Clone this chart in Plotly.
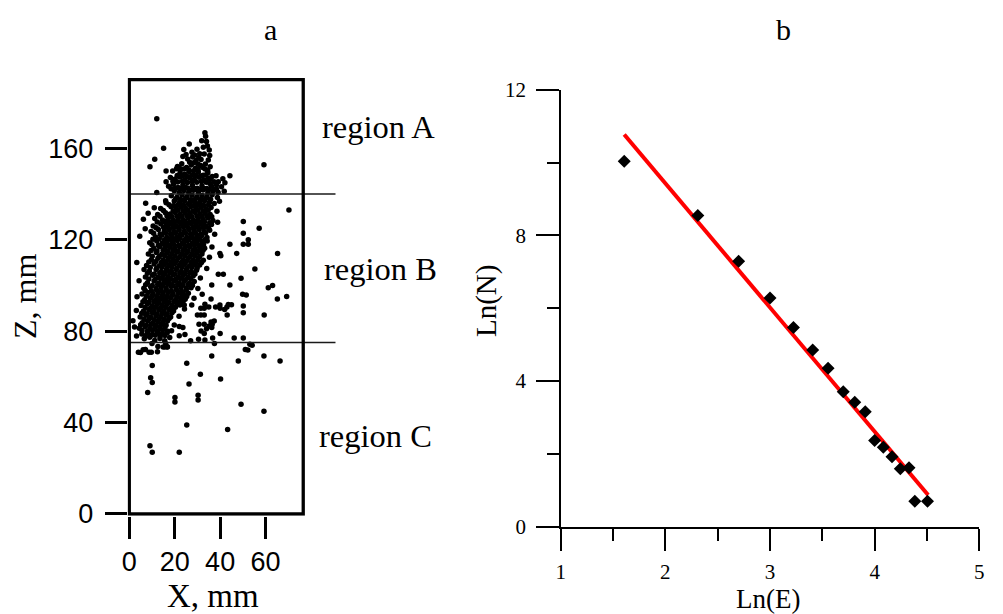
import plotly.graph_objects as go

# The page adds an 8 px body margin, so the figure is sized to the rest of the window
OFF = 8
W, H = 1003 - OFF, 614 - OFF

# ---------------- panel a data (X, Z in mm) ----------------
region_a_pts = [
    (12.1,172.9),(15.1,160.0),(11.2,155.2),(9.1,151.9),(59.3,152.8),(12.1,140.6),
    (33.3,166.8),(33.6,165.2),(34.0,163.0),(31.9,163.3),(26.4,161.9),(35.2,159.2),(34.4,161.0),
    (33.0,157.5),(35.4,156.8),(32.6,160.4),(34.8,154.9),
    (24.0,159.4),(27.6,158.2),(29.8,159.6),(31.0,157.6),(23.6,156.4),(25.7,155.3),(27.9,156.2),
    (29.4,154.6),(31.6,155.1),(33.5,153.1),
    (21.2,152.0),(23.1,153.2),(25.2,151.6),(27.3,152.7),(29.2,151.3),(31.4,152.4),(33.4,150.9),(35.6,151.9),
    (16.2,150.0),(19.1,150.0),(20.8,151.0),(22.4,149.4),(24.5,148.6),(26.3,149.8),(28.4,148.4),
    (30.4,149.6),(32.5,148.2),(34.6,149.3),(36.5,147.6),
    (18.1,147.2),(20.2,146.5),(22.3,147.4),(24.4,146.2),(26.5,147.1),(28.6,146.3),(30.7,147.3),
    (32.8,146.1),(34.8,147.0),(38.2,148.0),(44.3,148.0),(41.2,146.7),(39.2,145.3),(37.3,145.3),
    (42.1,144.9),(16.2,145.3),
    (17.3,143.4),(19.4,144.3),(21.5,142.8),(23.6,143.9),(25.7,142.6),(27.8,143.7),(29.9,142.5),
    (32.0,143.6),(34.1,142.4),(36.2,143.5),(38.4,142.2),(40.6,143.1),(35.5,144.6),(19.8,141.4),
    (22.0,140.8),(24.1,141.5),(26.2,140.7),(28.3,141.6),(30.4,140.9),(32.5,141.7),(34.6,140.6),
    (36.8,141.3),(39.1,140.7),(41.8,141.2),
]

region_a_fill = [
    (25.0,157.3),(28.8,157.0),(30.6,155.9),(26.6,153.9),(28.4,153.6),(30.3,153.0),(32.4,151.6),
    (24.1,150.9),(22.3,151.1),(26.2,150.6),(28.3,150.2),(30.3,150.7),(34.5,150.3),(21.1,148.1),
    (23.3,148.0),(25.4,147.8),(27.5,148.2),(29.5,148.0),(31.6,147.9),(33.6,148.3),(35.6,146.4),
    (19.2,145.6),(21.3,145.2),(23.4,145.6),(25.6,145.0),(27.6,145.5),(29.7,145.1),(31.8,145.4),
    (33.9,145.1),(38.4,143.9),(18.4,142.3),(20.4,142.6),(22.6,142.4),(24.7,142.9),(26.8,141.7),
    (28.9,142.3),(31.1,141.9),(33.1,142.3),(35.2,142.1),(37.3,141.9),
]

core_b_pts = [
    (18.5,139.2),(21.0,138.6),(23.2,139.5),(25.4,138.8),(27.6,139.4),(29.8,138.7),(32.0,139.3),(34.2,138.9),(36.5,139.6),(38.8,138.5),
    (16.2,136.2),(19.8,136.9),(22.1,136.1),(24.3,136.8),(26.5,136.0),(28.7,136.7),(30.9,136.2),(33.1,136.9),(35.3,136.3),(37.4,135.8),
    (13.8,133.6),(18.4,134.4),(20.6,133.7),(22.8,134.3),(25.0,133.6),(27.2,134.5),(29.4,133.8),(31.6,134.2),(33.8,133.5),(36.0,134.1),
    (12.5,131.0),(15.9,131.8),(18.0,131.2),(20.2,131.9),(22.4,131.1),(24.6,131.7),(26.8,131.3),(29.0,131.9),(31.2,131.2),(33.4,131.6),(35.6,131.0),
    (11.2,129.3),(14.6,128.6),(17.1,129.2),(19.3,128.5),(21.5,129.1),(23.7,128.7),(25.9,129.4),(28.1,128.6),(30.3,129.2),(32.5,128.8),(34.7,129.5),(36.8,128.4),
    (10.5,126.0),(13.9,126.9),(16.3,126.2),(18.5,126.8),(20.7,126.1),(22.9,126.7),(25.1,126.3),(27.3,126.9),(29.5,126.2),(31.7,126.7),(33.9,126.0),(36.2,126.6),
    (9.6,123.6),(12.8,124.4),(15.4,123.8),(17.6,124.3),(19.8,123.6),(22.0,124.2),(24.2,123.7),(26.4,124.4),(28.6,123.8),(30.8,124.3),(33.0,123.6),(35.4,124.1),
    (11.6,121.2),(14.2,121.9),(16.5,121.1),(18.7,121.8),(20.9,121.3),(23.1,121.9),(25.3,121.1),(27.5,121.7),(29.7,121.2),(31.9,121.8),(34.2,121.0),
    (9.0,118.7),(12.1,119.4),(14.5,118.6),(16.7,119.2),(18.9,118.8),(21.1,119.5),(23.3,118.7),(25.5,119.3),(27.7,118.6),(29.9,119.2),(32.1,118.9),(34.3,119.4),
    (10.8,116.2),(13.3,116.9),(15.6,116.1),(17.8,116.7),(20.0,116.3),(22.2,116.9),(24.4,116.2),(26.6,116.8),(28.8,116.1),(31.0,116.6),(33.2,116.2),
    (8.4,113.7),(11.9,114.4),(14.3,113.6),(16.5,114.2),(18.7,113.8),(20.9,114.5),(23.1,113.7),(25.3,114.3),(27.5,113.6),(29.7,114.1),(32.0,113.8),
    (9.7,111.2),(12.6,111.9),(14.9,111.1),(17.1,111.7),(19.3,111.3),(21.5,111.9),(23.7,111.2),(25.9,111.8),(28.1,111.1),(30.3,111.6),(32.6,111.0),
    (7.6,108.7),(10.9,109.4),(13.3,108.6),(15.5,109.2),(17.7,108.8),(19.9,109.5),(22.1,108.7),(24.3,109.3),(26.5,108.6),(28.7,109.1),(31.0,108.9),
    (8.8,106.2),(11.8,106.9),(14.1,106.1),(16.3,106.7),(18.5,106.3),(20.7,106.9),(22.9,106.2),(25.1,106.8),(27.3,106.1),(29.6,106.6),
    (7.1,103.7),(10.2,104.4),(12.6,103.6),(14.8,104.2),(17.0,103.8),(19.2,104.5),(21.4,103.7),(23.6,104.3),(25.8,103.6),(28.1,104.1),
    (8.0,101.2),(10.9,101.9),(13.2,101.1),(15.4,101.7),(17.6,101.3),(19.8,101.9),(22.0,101.2),(24.2,101.8),(26.5,101.1),(28.6,101.7),
    (6.4,98.7),(9.4,99.4),(11.8,98.6),(14.0,99.2),(16.2,98.8),(18.4,99.5),(20.6,98.7),(22.8,99.3),(25.1,98.6),(27.2,99.0),
    (5.6,96.2),(8.2,96.9),(10.5,96.1),(12.7,96.7),(14.9,96.3),(17.1,96.9),(19.3,96.2),(21.6,96.8),(23.8,96.1),(26.0,96.6),
    (6.8,93.7),(9.3,94.4),(11.5,93.6),(13.7,94.2),(15.9,93.8),(18.1,94.5),(20.4,93.7),(22.6,94.3),(24.6,93.9),
    (5.2,91.2),(7.9,91.9),(10.1,91.1),(12.3,91.7),(14.5,91.3),(16.7,91.9),(18.9,91.2),(21.1,91.7),
    (6.2,88.7),(8.6,89.4),(10.8,88.6),(13.0,89.2),(15.2,88.8),(17.4,89.5),(19.5,88.8),
    (4.8,86.2),(7.3,86.9),(9.5,86.1),(11.7,86.7),(13.9,86.3),(16.1,86.9),(18.2,86.2),
    (5.7,83.7),(8.1,84.4),(10.3,83.6),(12.5,84.2),(14.7,83.8),(16.8,84.4),
    (4.4,81.2),(6.9,81.9),(9.1,81.1),(11.3,81.7),(13.5,81.3),(15.7,81.9),
    (5.5,78.7),(8.0,79.4),(10.2,78.6),(12.4,79.2),(14.6,78.8),(16.7,79.3),
    (6.6,76.7),(9.0,77.3),(13.5,76.8),(17.8,77.2),(3.2,77.9),(11.2,75.9),(15.6,75.8),
]

core_b_fill = [
    (20.4,137.8),(22.6,137.6),(24.8,138.0),(27.0,137.5),(29.2,137.9),(31.4,137.6),(33.6,137.9),(35.8,137.7),
    (17.5,135.3),(19.6,135.0),(21.7,135.4),(23.9,135.1),(26.1,135.5),(28.3,135.0),(30.5,135.4),(32.7,135.1),(34.9,135.3),
    (15.0,132.8),(19.3,132.6),(21.5,133.0),(23.7,132.7),(25.9,132.9),(28.1,132.5),(30.3,133.0),(32.5,132.6),(34.7,132.9),
    (13.5,130.2),(16.6,130.4),(18.8,130.0),(21.0,130.3),(23.2,130.1),(25.4,130.5),(27.6,130.0),(29.8,130.4),(32.0,130.1),(34.2,130.3),(36.3,130.0),
    (12.3,127.7),(15.5,127.9),(17.7,127.5),(19.9,127.8),(22.1,127.6),(24.3,128.0),(26.5,127.5),(28.7,127.9),(30.9,127.6),(33.1,127.8),(35.4,127.4),
    (11.8,125.2),(15.1,125.4),(17.3,125.0),(19.5,125.3),(21.7,125.1),(23.9,125.5),(26.1,125.0),(28.3,125.4),(30.5,125.1),(32.7,125.3),(34.9,125.0),
    (10.7,122.8),(13.6,122.5),(16.0,122.9),(18.2,122.6),(20.4,123.0),(22.6,122.5),(24.8,122.9),(27.0,122.6),(29.2,122.8),(31.4,122.4),(33.6,122.9),
    (10.4,120.2),(13.2,120.4),(15.5,120.0),(17.7,120.3),(19.9,120.1),(22.1,120.5),(24.3,120.0),(26.5,120.4),(28.7,120.1),(30.9,120.3),(33.2,120.0),
    (10.0,117.8),(12.8,117.6),(15.1,118.0),(17.3,117.5),(19.5,117.9),(21.7,117.6),(23.9,118.0),(26.1,117.5),(28.3,117.9),(30.5,117.6),(32.7,117.8),
    (9.6,115.3),(12.2,115.0),(14.9,115.4),(17.1,115.1),(19.3,115.5),(21.5,115.0),(23.7,115.4),(25.9,115.1),(28.1,115.3),(30.4,115.0),(32.5,115.4),
    (10.1,112.8),(13.2,112.6),(15.6,113.0),(17.8,112.5),(20.0,112.9),(22.2,112.6),(24.4,113.0),(26.6,112.5),(28.8,112.9),(31.0,112.6),
    (8.6,110.2),(11.7,110.4),(14.1,110.0),(16.3,110.3),(18.5,110.1),(20.7,110.5),(22.9,110.0),(25.1,110.4),(27.3,110.1),(29.5,110.3),(31.8,110.0),
    (9.2,107.8),(12.1,107.6),(14.4,108.0),(16.6,107.5),(18.8,107.9),(21.0,107.6),(23.2,108.0),(25.4,107.5),(27.6,107.9),(29.9,107.6),
    (8.0,105.3),(11.0,105.0),(13.4,105.4),(15.6,105.1),(17.8,105.5),(20.0,105.0),(22.2,105.4),(24.4,105.1),(26.6,105.3),(28.9,105.0),
    (8.6,102.8),(11.4,102.6),(13.7,103.0),(15.9,102.5),(18.1,102.9),(20.3,102.6),(22.5,103.0),(24.7,102.5),(27.0,102.9),
    (7.2,100.3),(10.1,100.0),(12.5,100.4),(14.7,100.1),(16.9,100.5),(19.1,100.0),(21.3,100.4),(23.5,100.1),(25.8,100.3),(27.8,100.0),
    (7.0,97.8),(9.7,97.6),(11.9,98.0),(14.1,97.5),(16.3,97.9),(18.5,97.6),(20.7,98.0),(22.9,97.5),(25.0,97.9),
    (7.5,95.2),(9.9,95.4),(12.1,95.0),(14.3,95.3),(16.5,95.1),(18.7,95.5),(20.9,95.0),(23.1,95.4),(25.3,95.1),
    (6.0,92.8),(8.6,92.6),(10.8,93.0),(13.0,92.5),(15.2,92.9),(17.4,92.6),(19.6,93.0),(21.8,92.5),(23.6,92.9),
    (7.0,90.3),(9.3,90.0),(11.5,90.4),(13.7,90.1),(15.9,90.5),(18.1,90.0),(20.3,90.4),
    (5.5,87.8),(7.9,87.6),(10.1,88.0),(12.3,87.5),(14.5,87.9),(16.7,87.6),(18.8,88.0),
    (6.5,85.2),(8.8,85.4),(11.0,85.0),(13.2,85.3),(15.4,85.1),(17.5,85.5),
    (5.0,82.8),(7.5,82.6),(9.7,83.0),(11.9,82.5),(14.1,82.9),(16.2,82.6),
    (5.6,80.3),(8.0,80.0),(10.2,80.4),(12.4,80.1),(14.6,80.5),(16.6,80.0),
    (7.0,78.0),(9.2,77.8),(11.4,78.2),(13.6,77.9),(15.7,78.1),
]

edge_b_pts = [
    (7.2,135.9),(11.0,134.0),(16.0,137.0),(6.2,128.9),(8.3,131.6),(3.3,110.0),(6.5,107.0),
    (4.3,102.0),(3.4,95.0),(2.3,81.8),(1.6,84.5),(3.1,89.0),(4.6,121.5),(7.0,124.8),
    (38.6,132.4),(38.9,127.6),(37.6,122.4),(36.4,116.8),(35.3,112.3),(34.1,107.4),(31.3,103.2),
    (30.2,98.6),(28.5,94.4),(24.3,89.7),(21.9,86.5),(19.8,82.7),(18.6,80.2),(39.7,136.8),
]

outlier_b_pts = [
    (70.3,133.0),(57.2,125.0),(50.2,127.9),(50.2,122.8),(52.4,120.0),(52.4,118.0),(50.2,118.0),
    (44.3,118.0),(47.3,114.0),(39.9,114.0),(40.3,113.0),(65.3,113.9),(55.3,107.2),(39.2,104.9),
    (41.4,104.9),(49.2,103.1),(36.3,100.2),(44.3,100.2),(61.2,99.0),(63.1,99.9),(32.1,96.1),
    (49.9,96.1),(51.5,95.8),(65.2,94.1),(69.3,95.1),(36.0,94.0),(38.0,90.5),(35.0,90.5),
    (33.0,90.0),(43.0,90.5),(45.0,91.5),(42.0,89.5),(40.0,90.0),(50.2,91.0),(50.2,88.0),
    (31.5,90.0),(31.5,87.0),(33.0,87.0),(59.4,87.0),(43.1,87.0),(36.0,84.0),(36.5,83.0),
    (33.0,83.0),(34.0,81.0),(33.0,79.0),(23.6,81.6),(36.3,81.6),(40.0,79.0),(46.2,77.0),
    (50.2,77.0),(24.5,78.5),(36.7,77.0),(30.0,87.0),(30.7,83.0),(31.6,80.0),(35.2,82.2),
    (37.4,84.4),(22.0,82.0),(22.0,78.0),(22.3,91.4),(24.2,91.4),(27.5,91.4),(33.3,91.8),
    (39.9,91.4),(43.6,91.6),(33.3,76.1),(30.5,76.4),(27.0,75.8),
]

region_c_pts = [
    (16.7,73.2),(14.9,73.0),(12.4,71.0),(7.1,72.0),(4.9,70.6),(4.0,70.7),(6.1,71.8),(8.7,70.7),
    (9.7,70.7),(12.6,73.3),(15.7,73.0),(16.8,73.0),(10.0,74.6),(16.0,74.6),(37.5,74.6),
    (54.1,73.8),(52.2,71.7),(53.1,74.2),(51.1,72.0),(36.3,69.1),(48.0,66.9),(59.3,69.1),
    (66.4,66.9),(10.1,65.0),(25.3,65.9),(31.3,61.1),(9.4,59.6),(10.1,57.5),(26.3,56.9),
    (40.2,59.1),(8.1,53.1),(20.1,51.0),(20.1,49.0),(30.3,51.9),(30.3,49.9),(49.2,48.0),
    (59.3,44.9),(25.3,38.9),(43.3,37.0),(9.1,29.9),(10.1,27.0),(22.0,27.0),
]

region_bounds = [140, 75]      # Z of the region boundary lines, mm
box_x_max, box_z_max = 76.6, 190
line_x_max = 90.9
a_xticks = [0, 20, 40, 60]
a_yticks = [0, 40, 80, 120, 160]
region_labels = ["region A", "region B", "region C"]

# ---------------- panel b data ----------------
ln_e = [1.607, 2.31, 2.70, 3.00, 3.224, 3.408, 3.555, 3.70, 3.81, 3.91,
        4.00, 4.083, 4.166, 4.245, 4.328, 4.384, 4.505]
ln_n = [10.04, 8.55, 7.29, 6.28, 5.47, 4.85, 4.35, 3.71, 3.42, 3.16,
        2.37, 2.18, 1.92, 1.59, 1.62, 0.70, 0.70]
fit_x = [1.607, 4.511]
fit_y = [10.77, 0.87]

# ---------------- figure ----------------
def px(x):
    return (x - OFF) / W

def py(y):
    return 1 - (y - OFF) / H

all_a = region_a_pts + region_a_fill + core_b_pts + core_b_fill + edge_b_pts + outlier_b_pts + region_c_pts
ax_x = [p[0] for p in all_a]
ax_z = [p[1] for p in all_a]

fig = go.Figure()
fig.add_trace(go.Scatter(x=ax_x, y=ax_z, mode="markers",
                         marker=dict(size=5.5, color="black", line=dict(width=0)),
                         xaxis="x", yaxis="y", showlegend=False, hoverinfo="skip"))
for zb in region_bounds:
    fig.add_trace(go.Scatter(x=[0, line_x_max], y=[zb, zb], mode="lines",
                             line=dict(color="#1a1a1a", width=1.5),
                             xaxis="x", yaxis="y", showlegend=False, hoverinfo="skip"))

fig.add_trace(go.Scatter(x=fit_x, y=fit_y, mode="lines",
                         line=dict(color="#ff0000", width=4),
                         xaxis="x2", yaxis="y2", showlegend=False, hoverinfo="skip"))
fig.add_trace(go.Scatter(x=ln_e, y=ln_n, mode="markers",
                         marker=dict(symbol="diamond", size=10, color="black", line=dict(width=0)),
                         xaxis="x2", yaxis="y2", showlegend=False, hoverinfo="skip"))

# box around panel a
fig.add_shape(type="rect", xref="x", yref="y", x0=0, x1=box_x_max, y0=0, y1=box_z_max,
              line=dict(color="black", width=3.3), layer="above")

sans = "Liberation Sans, Arial, sans-serif"
serif = "Liberation Serif, Times New Roman, serif"

fig.update_layout(
    width=W, height=H, autosize=False,
    margin=dict(l=0, r=0, t=0, b=0, autoexpand=False),
    paper_bgcolor="white", plot_bgcolor="white",
    xaxis=dict(domain=[px(127.6), px(335.7)], range=[-0.75, line_x_max], automargin=False,
               tickvals=a_xticks, ticks="outside", ticklen=22, tickwidth=3, tickcolor="black",
               showline=False, showgrid=False, zeroline=False,
               tickfont=dict(family=sans, size=27, color="black"),
               anchor="y"),
    yaxis=dict(domain=[py(515.7), py(77.95)], range=[-0.75, 190.75], automargin=False,
               tickvals=a_yticks, ticks="outside", ticklen=22, tickwidth=3, tickcolor="black",
               showline=False, showgrid=False, zeroline=False,
               tickfont=dict(family=sans, size=27, color="black"), ticklabelstandoff=6,
               anchor="x"),
    xaxis2=dict(domain=[px(560.7), px(979.3)], range=[1, 5], automargin=False,
                tickvals=[1, 2, 3, 4, 5], ticks="outside", ticklen=22.5, tickwidth=2, tickcolor="black",
                minor=dict(ticks="outside", ticklen=12, tickwidth=2, tickcolor="black", dtick=0.5, tick0=1),
                showline=True, linewidth=2, linecolor="black",
                showgrid=False, zeroline=False,
                tickfont=dict(family=serif, size=21, color="black"), ticklabelstandoff=3,
                anchor="y2"),
    yaxis2=dict(domain=[py(526.7), py(89.8)], range=[0, 12], automargin=False,
                tickvals=[0, 4, 8, 12], ticks="outside", ticklen=22.5, tickwidth=2, tickcolor="black",
                minor=dict(ticks="outside", ticklen=12, tickwidth=2, tickcolor="black", dtick=2, tick0=0),
                showline=True, linewidth=2, linecolor="black",
                showgrid=False, zeroline=False,
                tickfont=dict(family=serif, size=21, color="black"), ticklabelstandoff=6,
                anchor="x2"),
)

ann = [
    dict(text="a", x=px(270), y=py(30), font=dict(family=serif, size=30)),
    dict(text="b", x=px(783), y=py(30), font=dict(family=serif, size=30)),
    dict(text="X, mm", x=px(212.5), y=py(596), font=dict(family=serif, size=33)),
    dict(text="Z, mm", x=px(25), y=py(297), font=dict(family=serif, size=32), textangle=-90),
    dict(text=region_labels[0], x=px(378.5), y=py(127), font=dict(family=serif, size=32.5)),
    dict(text=region_labels[1], x=px(380.7), y=py(269), font=dict(family=serif, size=32.5)),
    dict(text=region_labels[2], x=px(375), y=py(436), font=dict(family=serif, size=32.5)),
    dict(text="Ln(E)", x=px(768), y=py(599), font=dict(family=serif, size=27)),
    dict(text="Ln(N)", x=px(486), y=py(301), font=dict(family=serif, size=29), textangle=-90),
]
for a in ann:
    a.update(xref="paper", yref="paper", showarrow=False, xanchor="center", yanchor="middle")
    a["font"]["color"] = "black"
    fig.add_annotation(**a)

fig.write_html("out.html")
